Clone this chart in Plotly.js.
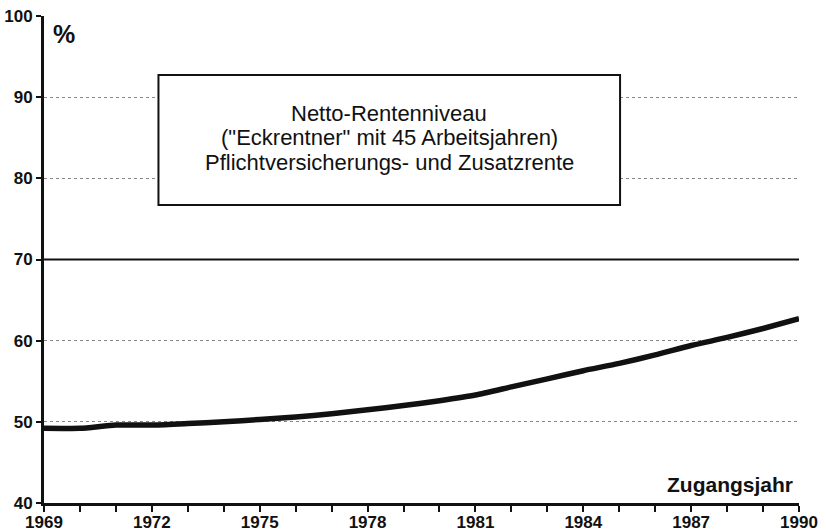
<!DOCTYPE html>
<html><head><meta charset="utf-8">
<script src="https://cdn.plot.ly/plotly-3.0.1.min.js"></script>
<style>html,body{margin:0;padding:0;background:#fff}</style>
</head><body><div id="chart" style="width:826px;height:532px"></div>
<script>
const years = [1969,1970,1971,1972,1973,1974,1975,1976,1977,1978,1979,1980,1981,1982,1983,1984,1985,1986,1987,1988,1989,1990];
const niveau = [49.2,49.2,49.6,49.6,49.8,50.0,50.3,50.6,51.0,51.5,52.0,52.6,53.3,54.3,55.3,56.3,57.2,58.25,59.4,60.4,61.5,62.7];
const xTicks = [1969,1972,1975,1978,1981,1984,1987,1990];
const yTicks = [40,50,60,70,80,90,100];
const refLevel = 70;
const boxLines = ['Netto-Rentenniveau', '("Eckrentner" mit 45 Arbeitsjahren)', 'Pflichtversicherungs- und Zusatzrente'];
const boxLineY = [0.8005, 0.7500, 0.6995];

const font = "Liberation Sans, Arial, sans-serif";
const annotations = boxLines.map((t, i) => ({
  xref: 'paper', yref: 'paper', x: 0.4573, y: boxLineY[i], xanchor: 'center', yanchor: 'middle',
  text: t, showarrow: false, font: {family: font, size: 22, color: '#111'}
}));
annotations.push(
  {xref: 'paper', yref: 'paper', x: 0.009, y: 0.995, xanchor: 'left', yanchor: 'top',
   text: '%', showarrow: false, font: {family: font, size: 25, color: '#111', weight: 'bold'}},
  {xref: 'paper', yref: 'paper', x: 0.995, y: 0.039, xanchor: 'right', yanchor: 'middle',
   text: 'Zugangsjahr', showarrow: false, font: {family: font, size: 21, color: '#111', weight: 'bold'}}
);

Plotly.newPlot('chart', [{
  x: years, y: niveau, type: 'scatter', mode: 'lines',
  line: {color: '#111', width: 5.5, shape: 'spline', smoothing: 0.6},
  hoverinfo: 'skip'
}], {
  width: 826, height: 532,
  margin: {l: 44, r: 27, t: 16, b: 29},
  paper_bgcolor: '#fff', plot_bgcolor: '#fff',
  showlegend: false,
  font: {family: font, color: '#111'},
  xaxis: {
    range: [1969, 1990], tickvals: xTicks, ticktext: xTicks.map(String),
    ticks: 'outside', ticklen: 6, tickwidth: 2, tickcolor: '#111',
    ticklabelstandoff: -4,
    showline: true, linecolor: '#111', linewidth: 3,
    showgrid: false, zeroline: false,
    tickfont: {family: font, size: 17, color: '#111', weight: 'bold'},
    minor: {dtick: 1, tick0: 1969, ticks: 'outside', ticklen: 6, tickwidth: 2, tickcolor: '#111', showgrid: false}
  },
  yaxis: {
    range: [40, 100], tickvals: yTicks, ticktext: yTicks.map(String),
    ticks: 'outside', ticklen: 5, tickwidth: 2, tickcolor: '#111',
    showline: true, linecolor: '#111', linewidth: 3,
    showgrid: true, gridcolor: '#888', griddash: 'dot', gridwidth: 1,
    zeroline: false,
    tickfont: {family: font, size: 17, color: '#111', weight: 'bold'}
  },
  shapes: [
    {type: 'line', xref: 'paper', x0: 0, x1: 1, yref: 'y', y0: refLevel, y1: refLevel,
     line: {color: '#111', width: 2}},
    {type: 'rect', xref: 'paper', yref: 'paper', x0: 0.1516, x1: 0.763, y0: 0.6119, y1: 0.8789,
     fillcolor: '#fff', line: {color: '#111', width: 2}, layer: 'above'}
  ],
  annotations: annotations
}, {staticPlot: true});
</script></body></html>
